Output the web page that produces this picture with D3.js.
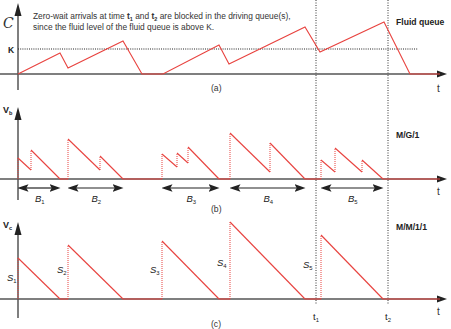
<!DOCTYPE html>
<html>
<head>
<meta charset="utf-8">
<script src="https://cdn.jsdelivr.net/npm/d3@7"></script>
<style>
  body { margin: 0; background: #fff; }
  svg { display: block; font-family: "Liberation Sans", Arial, sans-serif; }
</style>
</head>
<body>
<svg id="chart" width="451" height="329"></svg>
<script>
// time instants (same time axis for all three panels)
const fluidT = [0, 42, 50, 105, 124, 145, 201, 211, 287, 302, 366, 392, 422];
const fluidLevel = [0, 21, 6, 33, 0, 0, 29, 10, 47, 22, 52, 0, 0];
const levelK = 25;

// M/G/1 workload: repeated times mark a jump (arrival)
const mg1T = [0, 0, 13, 13, 42, 50, 50, 82, 82, 105, 144, 144, 159, 159, 170, 170, 201,
  212, 212, 252, 252, 287, 303, 303, 317, 317, 344, 344, 365, 422];
const mg1V = [0, 21, 9, 29, 0, 0, 40, 9, 23, 0, 0, 25, 12, 26, 16, 32, 0,
  0, 46, 7, 36, 0, 0, 19, 7, 31, 7, 19, 0, 0];

// busy periods
const busyNames = ["1", "2", "3", "4", "5"];
const busyStart = [0, 50, 144, 212, 303];
const busyEnd = [42, 105, 201, 287, 365];

// M/M/1/1 workload
const mm1T = [0, 0, 42, 50, 50, 105, 144, 144, 201, 212, 212, 287, 303, 303, 365, 422];
const mm1V = [0, 41, 0, 0, 54, 0, 0, 58, 0, 0, 77, 0, 0, 64, 0, 0];
const serviceNames = ["1", "2", "3", "4", "5"];

const blockTimes = [298, 370];
const blockNames = ["1", "2"];

const red = "#e8433f";
const axisColor = "#555";

const svg = d3.select("#chart");
const x = d3.scaleLinear().domain([0, 422]).range([18, 440]);

const defs = svg.append("defs");
defs.append("marker").attr("id", "arr")
  .attr("viewBox", "0 0 10 10").attr("refX", 5).attr("refY", 5)
  .attr("markerWidth", 11).attr("markerHeight", 11).attr("orient", "auto-start-reverse")
  .attr("markerUnits", "userSpaceOnUse")
  .append("path").attr("d", "M0,1.5 L10,5 L0,8.5 L2,5 Z").attr("fill", "#222");

// big axis arrowhead
function arrowHead(px, py, dir) {
  const p = dir === "up"
    ? [[px, py], [px - 3.5, py + 13], [px + 3.5, py + 13]]
    : [[px, py], [px - 10, py - 3.5], [px - 10, py + 3.5]];
  svg.append("path").attr("d", d3.line()(p) + "Z").attr("fill", "#222");
}

const panels = [
  { base: 74, top: 3, bottom: 90 },
  { base: 179, top: 107, bottom: 200 },
  { base: 299, top: 222, bottom: 318 }
];

// vertical dotted lines at t1, t2
blockTimes.forEach(t => {
  svg.append("line")
    .attr("x1", x(t)).attr("x2", x(t)).attr("y1", 0).attr("y2", 304)
    .attr("stroke", "#333").attr("stroke-width", 1).attr("stroke-dasharray", "1,1.5");
});

panels.forEach(p => {
  svg.append("line").attr("x1", x(0)).attr("x2", x(0))
    .attr("y1", p.bottom).attr("y2", p.top + 10)
    .attr("stroke", axisColor).attr("stroke-width", 1.5);
  arrowHead(x(0), p.top, "up");
  svg.append("line").attr("x1", x(0) - 18).attr("x2", 438)
    .attr("y1", p.base).attr("y2", p.base)
    .attr("stroke", axisColor).attr("stroke-width", 1.5);
  arrowHead(447, p.base, "right");
  p.y = d3.scaleLinear().domain([0, 100]).range([p.base, p.base - 100]);
});

function drawWork(ts, vs, y) {
  for (let i = 1; i < ts.length; i++) {
    const jump = ts[i] === ts[i - 1];
    svg.append("line")
      .attr("x1", x(ts[i - 1])).attr("y1", y(vs[i - 1]))
      .attr("x2", x(ts[i])).attr("y2", y(vs[i]))
      .attr("stroke", red).attr("stroke-width", jump ? 1 : 1.1)
      .attr("stroke-dasharray", jump ? "1,1" : null);
  }
}

// panel (a)
const ya = panels[0].y;
svg.append("line").attr("x1", x(0)).attr("x2", 418)
  .attr("y1", ya(levelK)).attr("y2", ya(levelK))
  .attr("stroke", "#222").attr("stroke-dasharray", "1,1.2").attr("stroke-width", 1);
svg.append("path")
  .datum(fluidT.map((t, i) => [x(t), ya(fluidLevel[i])]))
  .attr("d", d3.line()).attr("fill", "none").attr("stroke", red).attr("stroke-width", 1.1);

drawWork(mg1T, mg1V, panels[1].y);
drawWork(mm1T, mm1V, panels[2].y);

// busy period arrows
busyNames.forEach((n, i) => {
  svg.append("line")
    .attr("x1", x(busyStart[i]) + 5).attr("x2", x(busyEnd[i]) - 5)
    .attr("y1", 188).attr("y2", 188)
    .attr("stroke", "#222").attr("stroke-width", 1.2)
    .attr("marker-start", "url(#arr)").attr("marker-end", "url(#arr)");
});

function subLabel(px, py, main, sub, opts) {
  const t = svg.append("text").attr("x", px).attr("y", py)
    .attr("font-size", opts.size).attr("fill", "#222")
    .attr("font-style", opts.italic ? "italic" : null)
    .attr("font-weight", opts.bold ? "bold" : null);
  t.append("tspan").text(main);
  t.append("tspan").attr("font-size", opts.size * 0.62).attr("dy", opts.dy || 2)
    .attr("font-style", "normal").text(sub);
  return t;
}

const busyMid = busyStart.map((s, i) => (s + busyEnd[i]) / 2);
busyNames.forEach((n, i) => {
  subLabel(x(busyMid[i]) - 4, 202, "B", n, { size: 9.5, italic: true });
});

// service labels in (c)
const sx = [7, 57, 150, 217, 303];
const sy = [281, 273, 273, 266, 268];
serviceNames.forEach((n, i) => {
  subLabel(sx[i], sy[i], "S", n, { size: 9.5, italic: true });
});

blockNames.forEach((n, i) => {
  subLabel(x(blockTimes[i]) - 3, 320, "t", n, { size: 9.5 });
});

// axis labels
svg.append("text").attr("x", 3).attr("y", 28).attr("font-size", 14)
  .attr("font-family", "DejaVu Serif, serif").attr("font-style", "italic").attr("fill", "#333").text("C");
svg.append("text").attr("x", 8).attr("y", 53).attr("font-size", 8.5)
  .attr("font-weight", "bold").attr("fill", "#222").text("K");
subLabel(3, 113, "V", "b", { size: 9, bold: true, dy: 1.5 });
subLabel(3, 228, "V", "c", { size: 9, bold: true, dy: 1.5 });

[92, 195, 315].forEach(yy => {
  svg.append("text").attr("x", 437).attr("y", yy).attr("font-size", 10).attr("fill", "#333").text("t");
});

const desc = svg.append("text").attr("font-size", 8.4).attr("fill", "#333");
const l1 = desc.append("tspan").attr("x", 33).attr("y", 19);
l1.append("tspan").text("Zero-wait arrivals at time ");
l1.append("tspan").attr("font-weight", "bold").text("t");
l1.append("tspan").attr("font-weight", "bold").attr("font-size", 5.5).attr("dy", 1.5).text("1");
l1.append("tspan").attr("dy", -1.5).text(" and ");
l1.append("tspan").attr("font-weight", "bold").text("t");
l1.append("tspan").attr("font-weight", "bold").attr("font-size", 5.5).attr("dy", 1.5).text("2");
l1.append("tspan").attr("dy", -1.5).text(" are blocked in the driving queue(s),");
desc.append("tspan").attr("x", 33).attr("y", 30)
  .text("since the fluid level of the fluid queue is above K.");

const titles = [["Fluid queue", 25], ["M/G/1", 138], ["M/M/1/1", 230]];
titles.forEach(([s, yy]) => {
  svg.append("text").attr("x", 396).attr("y", yy).attr("font-size", 8.6)
    .attr("font-weight", "bold").attr("fill", "#222").text(s);
});

[["(a)", 91], ["(b)", 212], ["(c)", 327]].forEach(([s, yy]) => {
  svg.append("text").attr("x", 211).attr("y", yy).attr("font-size", 8.6)
    .attr("fill", "#333").text(s);
});
</script>
</body>
</html>
